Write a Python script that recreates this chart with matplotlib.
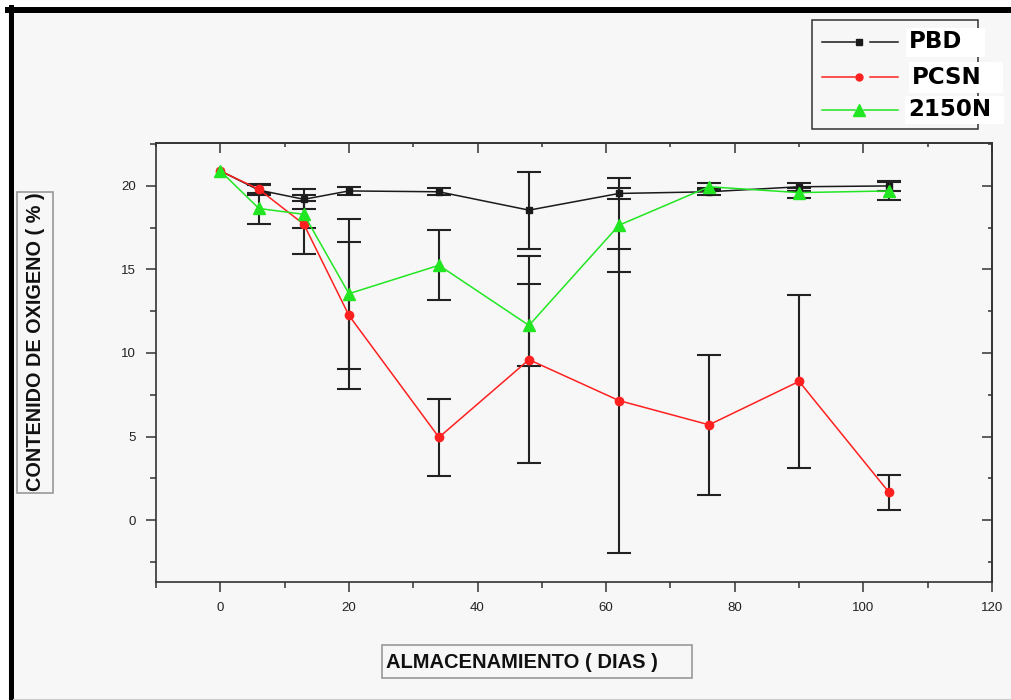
import matplotlib.pyplot as plt
from matplotlib.patches import Rectangle
from matplotlib.lines import Line2D
from matplotlib.ticker import MultipleLocator

# dias de almacenamiento
dias = [0, 6, 13, 20, 34, 48, 62, 76, 90, 104]

# contenido de oxigeno (%) y desviacion de cada muestra (dia 0 sin barra)
pbd = [20.9, 19.75, 19.2, 19.7, 19.65, 18.55, 19.55, 19.65, 19.95, 20.0]
pbd_err = [0.0, 0.3, 0.6, 0.25, 0.2, 2.3, 0.35, 0.2, 0.25, 0.3]

pcsn = [20.9, 19.8, 17.7, 12.25, 4.95, 9.6, 7.15, 5.7, 8.3, 1.65]
pcsn_err = [0.0, 0.3, 1.75, 4.4, 2.3, 6.2, 9.1, 4.2, 5.2, 1.05]

n2150 = [20.9, 18.65, 18.3, 13.55, 15.25, 11.65, 17.65, 19.95, 19.6, 19.7]
n2150_err = [0.0, 0.9, 0.8, 4.5, 2.1, 2.45, 2.8, 0.2, 0.3, 0.55]

nombres = ["PBD", "PCSN", "2150N"]
colores = ["#1a1a1a", "#ff2020", "#22e622"]
marcadores = ["s", "o", "^"]
tam_marc = [5, 6, 9]

W, H = 1011, 700
fondo = "#f7f7f7"


def fx(x):  # pixel -> fraccion de figura
    return x / W


def fy(y):
    return 1 - y / H


fig = plt.figure(figsize=(W / 100, H / 100), dpi=100, facecolor="white")

# fondo gris y marco negro
fig.add_artist(Rectangle((fx(8), 0), 1 - fx(8), fy(7), transform=fig.transFigure,
                         facecolor=fondo, edgecolor="none", zorder=-10))
fig.add_artist(Line2D([fx(8), 1], [fy(10), fy(10)], color="black", lw=4.3))
fig.add_artist(Line2D([fx(10.5), fx(10.5)], [fy(7), 0], color="black", lw=3.6))
fig.add_artist(Line2D([fx(13), 1], [fy(699), fy(699)], color="#cccccc", lw=0.8))

ax = fig.add_axes([fx(156), fy(582), (992 - 156) / W, (582 - 143) / H])
ax.set_facecolor(fondo)

datos = [(pbd, pbd_err), (pcsn, pcsn_err), (n2150, n2150_err)]
for (val, err), nom, col, mk, ms in zip(datos, nombres, colores, marcadores, tam_marc):
    ax.errorbar(dias, val, yerr=err, errorevery=(1, 1), color=col, lw=1.1, marker=mk,
                markersize=ms, ecolor="#222222", elinewidth=1.5, capsize=8.5,
                capthick=1.5, label=nom)

ax.set_xlim(-10, 120)
ax.set_ylim(-3.71, 22.57)
ax.xaxis.set_major_locator(MultipleLocator(20))
ax.xaxis.set_minor_locator(MultipleLocator(10))
ax.yaxis.set_major_locator(MultipleLocator(5))
ax.yaxis.set_minor_locator(MultipleLocator(2.5))

for s in ax.spines.values():
    s.set_color("#333333")
    s.set_linewidth(1.2)

ax.tick_params(which="both", direction="out", color="#333333", width=1.1,
               top=False, right=False, labelsize=9.5, labelcolor="#222222")
ax.tick_params(which="major", length=7.5, pad=7)
ax.tick_params(which="minor", length=4)
for t in ax.get_xticklabels() + ax.get_yticklabels():
    t.set_family("Liberation Sans")

# ejes espejo con marcas hacia dentro
sup = ax.secondary_xaxis("top")
sup.xaxis.set_major_locator(MultipleLocator(20))
sup.xaxis.set_minor_locator(MultipleLocator(10))
der = ax.secondary_yaxis("right")
der.yaxis.set_major_locator(MultipleLocator(5))
der.yaxis.set_minor_locator(MultipleLocator(2.5))
for sec in (sup, der):
    sec.tick_params(which="both", direction="in", color="#333333", width=1.1,
                    labeltop=False, labelright=False)
    sec.tick_params(which="major", length=7)
    sec.tick_params(which="minor", length=3)
    for s in sec.spines.values():
        s.set_color("#333333")
        s.set_linewidth(1.2)

# titulos de ejes en recuadro
fig.add_artist(Rectangle((fx(17), fy(493)), (53 - 17) / W, (493 - 192) / H,
                         transform=fig.transFigure, fill=False, edgecolor="#999999", lw=1.2))
fig.text(fx(35.5), fy(342), "CONTENIDO DE OXIGENO ( % )", rotation=90, ha="center",
         va="center", fontsize=14.3, fontweight="bold", family="Liberation Sans",
         color="#111111")
fig.add_artist(Rectangle((fx(382), fy(678)), (692 - 382) / W, (678 - 645) / H,
                         transform=fig.transFigure, fill=False, edgecolor="#999999", lw=1.2))
fig.text(fx(386), fy(662), "ALMACENAMIENTO ( DIAS )", ha="left", va="center",
         fontsize=14.5, fontweight="bold", family="Liberation Sans", color="#111111")

# leyenda
fig.add_artist(Rectangle((fx(812), fy(129)), (978 - 812) / W, (129 - 20) / H,
                         transform=fig.transFigure, fill=False, edgecolor="#333333", lw=1.1))
filas = [42, 77, 110]
cajas = [(906, 28, 985, 57), (909, 62, 1003, 93), (905, 96, 1004, 124)]
for nom, col, mk, fila, caja in zip(nombres, colores, marcadores, filas, cajas):
    fig.add_artist(Line2D([fx(822), fx(855)], [fy(fila)] * 2, color=col, lw=1.1))
    fig.add_artist(Line2D([fx(870 if mk != "^" else 864), fx(898)], [fy(fila)] * 2,
                          color=col, lw=1.1))
    fig.add_artist(Line2D([fx(859)], [fy(fila)], color=col, marker=mk,
                          markersize=5 if mk != "^" else 9, lw=0))
    x0, y0, x1, y1 = caja
    fig.add_artist(Rectangle((fx(x0), fy(y1)), (x1 - x0) / W, (y1 - y0) / H,
                             transform=fig.transFigure, facecolor="white",
                             edgecolor="none", zorder=3))
    fig.text(fx(x0 + 3), fy(fila), nom, ha="left", va="center", fontsize=16.5,
             fontweight="bold", family="DejaVu Sans", color="black", zorder=4)

fig.savefig("out.png", dpi=100, facecolor=fig.get_facecolor())
